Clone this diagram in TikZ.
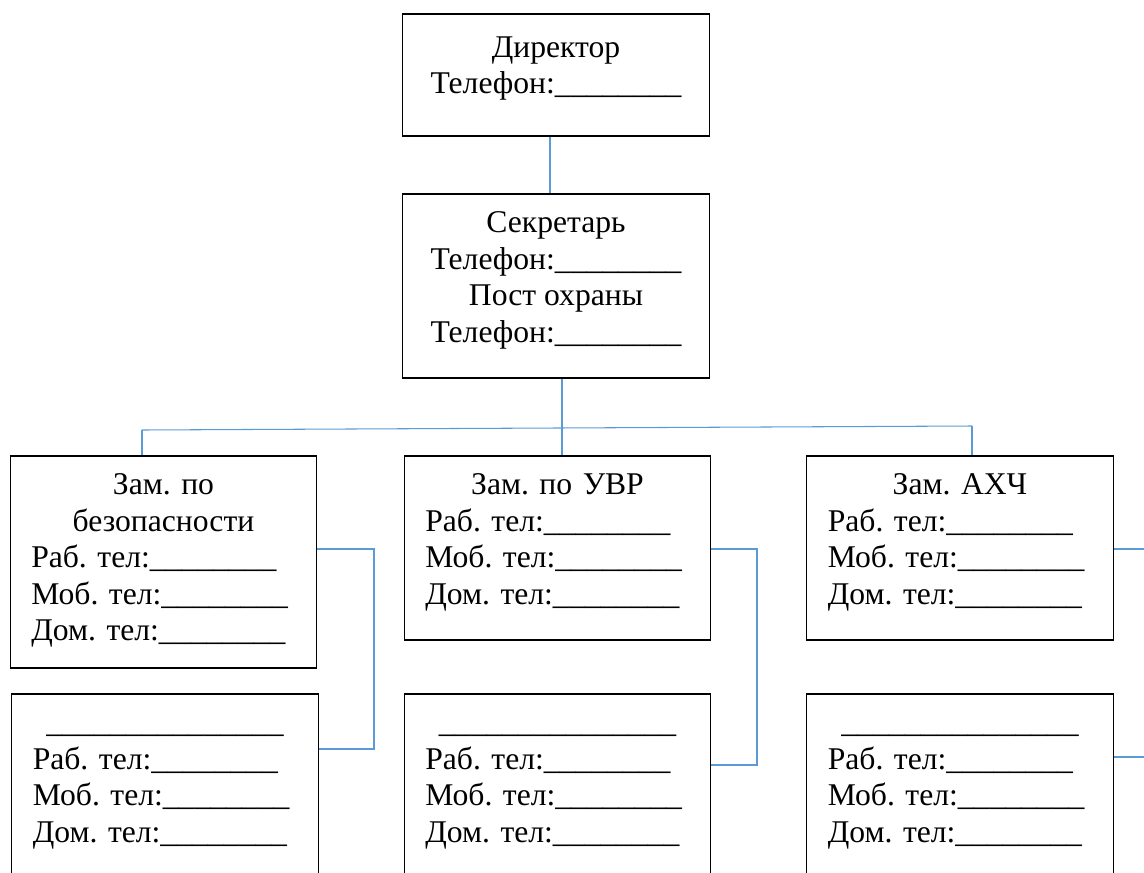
\documentclass[tikz,border=0pt]{standalone}
\usepackage{fontspec}
\setmainfont{Liberation Serif}
\usetikzlibrary{positioning}
\definecolor{linkblue}{RGB}{91,155,213}
\newcommand{\fillin}[1]{\foreach \n in {1,...,#1}{\_}}
\frenchspacing

\begin{document}
\begin{tikzpicture}[x=0.02cm, y=-0.02cm,
    box/.style={draw, line width=0.7pt, minimum width=6.13cm, inner sep=0pt},
    txt/.style={font=\fontsize{18}{20.8}\selectfont, inner sep=0pt},
    link/.style={draw=linkblue, line width=0.6pt}]
  \useasboundingbox (0,0) rectangle (1144,873);

  % director and secretary
  \node[box, minimum height=2.44cm] (dir) at (556,75) {};
  \node[box, minimum height=3.68cm] (sec) at (556,286) {};
  \node[txt, align=center, below=0.356cm of dir.north] (dirtxt)
    {\strut Директор\\Телефон:\fillin{8}};
  \node[txt, align=center, below=0.266cm of sec.north] (sectxt)
    {\strut Секретарь\\Телефон:\fillin{8}\\Пост охраны\\Телефон:\fillin{8}};

  % deputies
  \node[box, minimum height=4.24cm] (zb) at (163.5,562) {};
  \node[box, minimum height=3.68cm] (zu) at (557.5,548) {};
  \node[box, minimum height=3.68cm] (za) at (960,548) {};
  \node[txt, text width=5.29cm, below=0.266cm of zb.north] (zbtxt)
    {\centering\strut Зам. по\\безопасности\par
     \raggedright Раб.~тел:\fillin{8}\\Моб.~тел:\fillin{8}\\Дом.~тел:\fillin{8}};
  \node[txt, text width=5.29cm, below=0.266cm of zu.north] (zutxt)
    {\centering\strut Зам. по УВР\par
     \raggedright Раб.~тел:\fillin{8}\\Моб.~тел:\fillin{8}\\Дом.~тел:\fillin{8}};
  \node[txt, text width=5.29cm, below=0.266cm of za.north] (zatxt)
    {\centering\strut Зам. АХЧ\par
     \raggedright Раб.~тел:\fillin{8}\\Моб.~тел:\fillin{8}\\Дом.~тел:\fillin{8}};

  % second row
  \node[box, minimum height=4.72cm] (zb2) at (165,812) {};
  \node[box, minimum height=4.72cm] (zu2) at (557.5,812) {};
  \node[box, minimum height=4.72cm] (za2) at (960,812) {};
  \node[txt, text width=5.29cm, below=0.266cm of zb2.north] (zb2txt)
    {\centering\strut\fillin{15}\par
     \raggedright Раб.~тел:\fillin{8}\\Моб.~тел:\fillin{8}\\Дом.~тел:\fillin{8}};
  \node[txt, text width=5.29cm, below=0.266cm of zu2.north] (zu2txt)
    {\centering\strut\fillin{15}\par
     \raggedright Раб.~тел:\fillin{8}\\Моб.~тел:\fillin{8}\\Дом.~тел:\fillin{8}};
  \node[txt, text width=5.29cm, below=0.266cm of za2.north] (za2txt)
    {\centering\strut\fillin{15}\par
     \raggedright Раб.~тел:\fillin{8}\\Моб.~тел:\fillin{8}\\Дом.~тел:\fillin{8}};

  % connectors
  \coordinate (bus) at (562,428);
  \coordinate (busl) at (142,430);
  \coordinate (busr) at (972,426);
  \draw[link] ([xshift=-0.12cm]dir.south) -- ([xshift=-0.12cm]sec.north);
  \draw[link] (bus |- sec.south) -- (bus);
  \draw[link] (busl) -- (busr);
  \draw[link] (busl) -- (busl |- zb.north);
  \draw[link] (bus) -- (bus |- zu.north);
  \draw[link] (busr) -- (busr |- za.north);

  \coordinate (jb1) at (374,549);
  \coordinate (jb2) at (374,749);
  \coordinate (ju1) at (757,549);
  \coordinate (ju2) at (757,765);
  \coordinate (ja1) at (1160,549);
  \coordinate (ja2) at (1160,757);
  \draw[link] (zb.east |- jb1) -- (jb1) -- (jb2) -- (zb2.east |- jb2);
  \draw[link] (zu.east |- ju1) -- (ju1) -- (ju2) -- (zu2.east |- ju2);
  \draw[link] (za.east |- ja1) -- (ja1);
  \draw[link] (za2.east |- ja2) -- (ja2);
\end{tikzpicture}
\end{document}
